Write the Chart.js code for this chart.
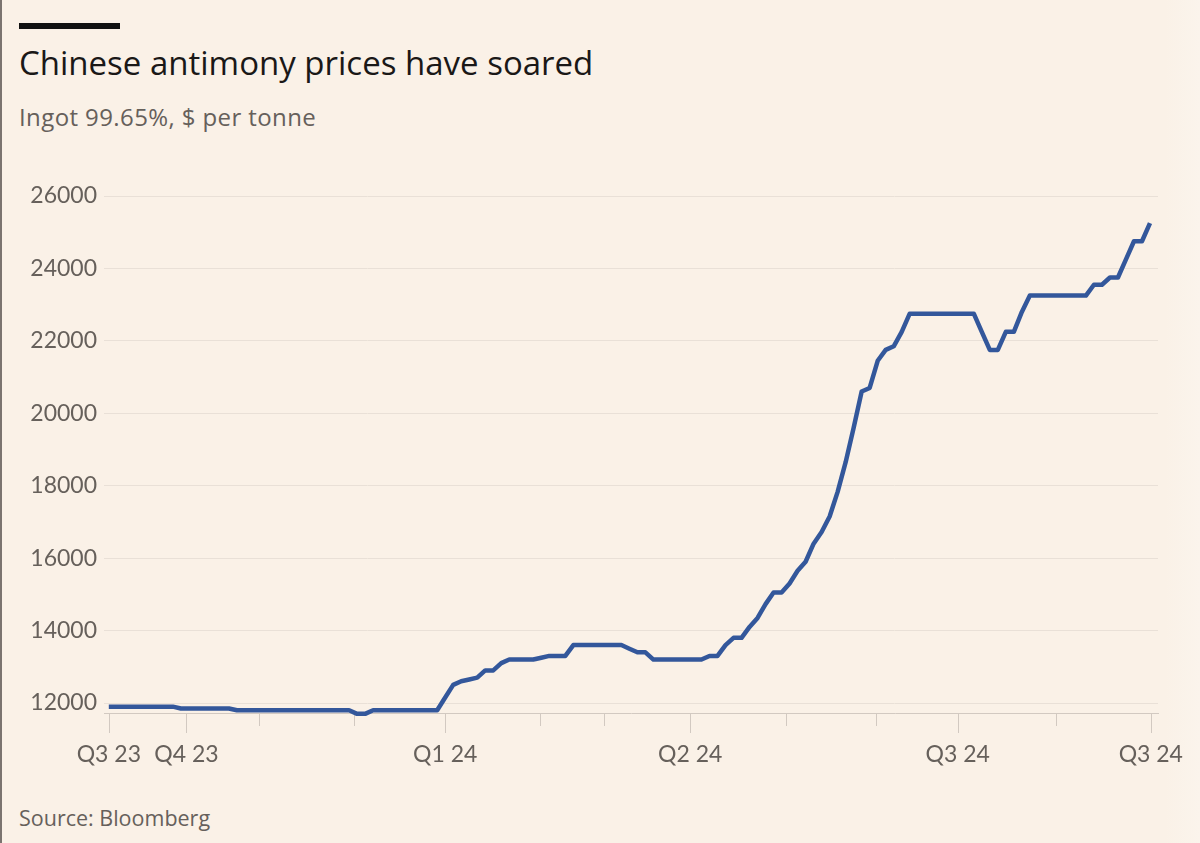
<!DOCTYPE html>
<html>
<head>
<meta charset="utf-8">
<title>Chinese antimony prices have soared</title>
<script src="https://cdn.jsdelivr.net/npm/chart.js@4.4.1/dist/chart.umd.min.js"></script>
<style>
  body {
    margin: 0;
    width: 1200px;
    height: 843px;
    position: relative;
    overflow: hidden;
    background: linear-gradient(to right, #faf1e7 0, #faf1e7 1165px, #fbf4ec 1200px);
    font-family: "Open Sans", Lato, sans-serif;
  }
  #edge { position: absolute; left: 0; top: 0; width: 2px; height: 843px; background: #7b7470; }
  #bar { position: absolute; left: 19px; top: 23px; width: 101px; height: 6px; background: #111; }
  #title { position: absolute; left: 19px; top: 46px; font-size: 33px; line-height: 33px; color: #1a1817; white-space: nowrap; }
  #subtitle { position: absolute; left: 19px; top: 105px; font-size: 24px; line-height: 24px; letter-spacing: 0.4px; color: #66605b; white-space: nowrap; }
  #source { position: absolute; left: 19px; top: 807px; font-size: 21.5px; line-height: 21.5px; color: #66605b; white-space: nowrap; }
  #wrap { position: absolute; left: 0; top: 170px; width: 1200px; height: 630px; }
</style>
</head>
<body>
<div id="edge"></div>
<div id="bar"></div>
<div id="title">Chinese antimony prices have soared</div>
<div id="subtitle">Ingot 99.65%, $ per tonne</div>
<div id="wrap"><canvas id="priceChart"></canvas></div>
<div id="source">Source: Bloomberg</div>

<script>
// price, $ per tonne, one reading per step along the x axis
const prices = [
  11900, 11900, 11900, 11900, 11900, 11900, 11900, 11900, 11900,
  11850, 11850, 11850, 11850, 11850, 11850, 11850,
  11800, 11800, 11800, 11800, 11800, 11800, 11800, 11800, 11800, 11800,
  11800, 11800, 11800, 11800, 11800,
  11700, 11700,
  11800, 11800, 11800, 11800, 11800, 11800, 11800, 11800, 11800,
  12150, 12500, 12600, 12650, 12700, 12900, 12900, 13100,
  13200, 13200, 13200, 13200, 13250, 13300, 13300, 13300,
  13600, 13600, 13600, 13600, 13600, 13600, 13600,
  13500, 13400, 13400,
  13200, 13200, 13200, 13200, 13200, 13200, 13200,
  13300, 13300, 13600, 13800, 13800, 14100, 14350, 14730,
  15050, 15050, 15300, 15650, 15900, 16400, 16720, 17150, 17830,
  18650, 19600, 20600, 20700, 21450, 21750, 21850, 22250,
  22750, 22750, 22750, 22750, 22750, 22750, 22750, 22750, 22750,
  22250, 21750, 21750, 22250, 22250, 22800,
  23250, 23250, 23250, 23250, 23250, 23250, 23250, 23250,
  23550, 23550, 23750, 23750, 24250, 24750, 24750, 25250
];

// x axis ticks (positions in steps) and their labels; blank = minor tick
const xTickPos = [0, 9.7, 18.8, 30.6, 42, 53.9, 61.8, 72.6, 84.5, 95.8, 106, 118.3, 130.1];
const xTickLabels = ["Q3 23", "Q4 23", "", "", "Q1 24", "", "", "Q2 24", "", "", "Q3 24", "", "Q3 24"];

const yTicks = [12000, 14000, 16000, 18000, 20000, 22000, 24000, 26000];

const greyText = "#66605b";

const tickMarks = {
  id: "tickMarks",
  beforeDatasetsDraw(chart) {
    const xs = chart.scales.x;
    const ctx = chart.ctx;
    ctx.save();
    ctx.strokeStyle = "#d2c9c1";
    ctx.lineWidth = 1;
    xs.ticks.forEach((t, i) => {
      const px = Math.round(xs.getPixelForValue(t.value)) + 0.5;
      const len = xTickLabels[i] ? 20 : 13;
      ctx.beginPath();
      ctx.moveTo(px, xs.top);
      ctx.lineTo(px, xs.top + len);
      ctx.stroke();
    });
    ctx.restore();
  }
};

new Chart(document.getElementById("priceChart"), {
  type: "line",
  data: {
    datasets: [{
      data: prices.map((v, i) => ({ x: i, y: v })),
      borderColor: "#33579b",
      borderWidth: 4.5,
      pointRadius: 0,
      tension: 0,
      borderJoinStyle: "round",
      clip: false
    }]
  },
  options: {
    responsive: true,
    maintainAspectRatio: false,
    devicePixelRatio: 1,
    animation: false,
    layout: { padding: { top: 26, right: 42, bottom: 0, left: 0 } },
    plugins: {
      legend: { display: false },
      tooltip: { enabled: false }
    },
    scales: {
      x: {
        type: "linear",
        min: -0.6,
        max: 131,
        afterBuildTicks: scale => {
          scale.ticks = xTickPos.map(v => ({ value: v }));
        },
        afterFit: scale => {
          scale.height = 87;
          scale.paddingLeft = 0;
          scale.paddingRight = 0;
        },
        grid: { drawOnChartArea: false, drawTicks: false },
        border: { display: true, color: "#d2c9c1", width: 1 },
        ticks: {
          autoSkip: false,
          maxRotation: 0,
          padding: 28,
          color: greyText,
          font: { family: "Lato", size: 23 },
          callback: (value, index) => xTickLabels[index]
        }
      },
      y: {
        min: 11724,
        max: 26000,
        afterBuildTicks: scale => {
          scale.ticks = yTicks.map(v => ({ value: v }));
        },
        afterFit: scale => {
          scale.width = 104;
          scale.paddingTop = 0;
          scale.paddingBottom = 0;
        },
        grid: { color: "#e9e0d7", lineWidth: 1, drawTicks: false },
        border: { display: false },
        ticks: {
          padding: 7,
          color: greyText,
          font: { family: "Lato", size: 23 },
          callback: value => String(value)
        }
      }
    }
  },
  plugins: [tickMarks]
});
</script>
</body>
</html>
